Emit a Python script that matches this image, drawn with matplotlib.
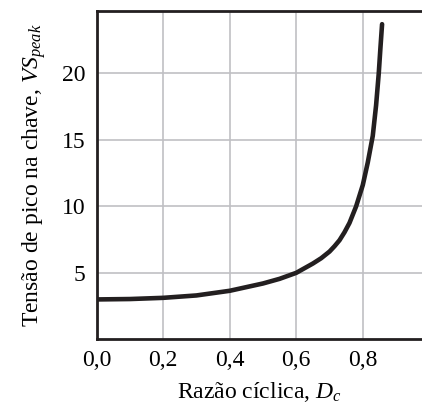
import matplotlib.pyplot as plt

plt.rcParams['font.family'] = 'Liberation Serif'
plt.rcParams['mathtext.fontset'] = 'custom'
plt.rcParams['mathtext.rm'] = 'Liberation Serif'
plt.rcParams['mathtext.it'] = 'Liberation Serif:italic'

# duty cycle vs switch peak voltage
duty = [0.0, 0.1, 0.2, 0.3, 0.4, 0.5, 0.55, 0.6, 0.65, 0.675, 0.7, 0.715, 0.73,
        0.745, 0.76, 0.78, 0.8, 0.815, 0.83, 0.84, 0.848, 0.853, 0.858]
vs_peak = [3.0, 3.03, 3.12, 3.3, 3.65, 4.2, 4.55, 5.0, 5.7, 6.1, 6.6, 7.0, 7.45,
           8.05, 8.75, 10.0, 11.6, 13.3, 15.3, 17.6, 20.0, 21.9, 23.7]

xticks = [0.0, 0.2, 0.4, 0.6, 0.8]
xtick_labels = ['0,0', '0,2', '0,4', '0,6', '0,8']
yticks = [5, 10, 15, 20]

fig = plt.figure(figsize=(4.22, 4.03), dpi=100)
ax = fig.add_axes([0.229, 0.158, 0.771, 0.815])

ax.plot(duty, vs_peak, color='#231f20', linewidth=3.3, solid_capstyle='round',
        solid_joinstyle='round', zorder=3)

ax.set_xlim(0, 0.978)
ax.set_ylim(0, 24.7)
ax.set_xticks(xticks)
ax.set_xticklabels(xtick_labels)
ax.set_yticks(yticks)
ax.grid(True, color='#c0c0c4', linewidth=1.2)
ax.tick_params(length=0, labelsize=17, pad=8)

for side in ['left', 'top', 'bottom']:
    ax.spines[side].set_linewidth(2)
    ax.spines[side].set_color('#231f20')
ax.spines['right'].set_visible(False)

ax.set_xlabel('Razão cíclica, $D_c$', fontsize=17, labelpad=6)
ax.set_ylabel('Tensão de pico na chave, $VS_{peak}$', fontsize=17, labelpad=10)

plt.savefig('out.png', dpi=100)
